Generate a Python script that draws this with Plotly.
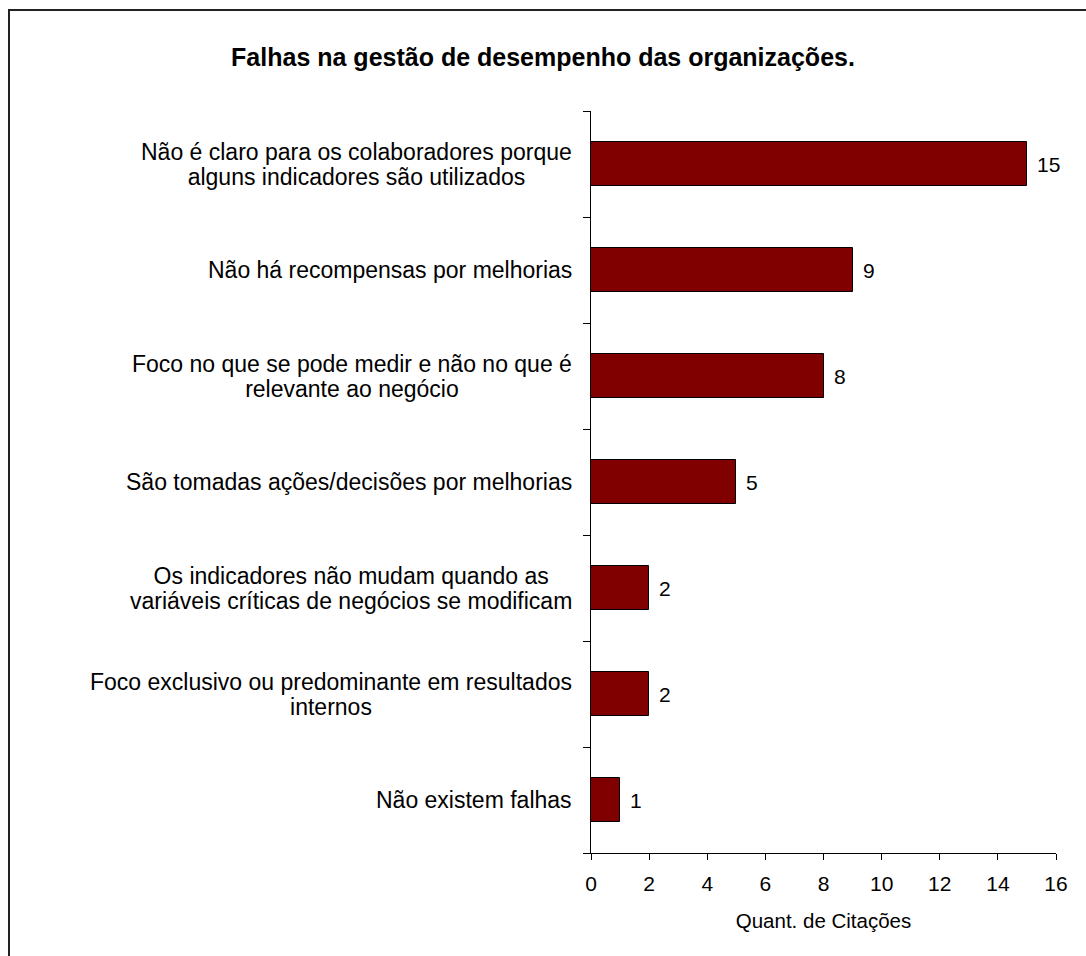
import plotly.graph_objects as go

# Survey results: failures in organisational performance management
categories = [
    "Não é claro para os colaboradores porque<br>alguns indicadores são utilizados",
    "Não há recompensas por melhorias",
    "Foco no que se pode medir e não no que é<br>relevante ao negócio",
    "São tomadas ações/decisões por melhorias",
    "Os indicadores não mudam quando as<br>variáveis críticas de negócios se modificam",
    "Foco exclusivo ou predominante em resultados<br>internos",
    "Não existem falhas",
]
citations = [15, 9, 8, 5, 2, 2, 1]
x_ticks = [0, 2, 4, 6, 8, 10, 12, 14, 16]

title_text = "Falhas na gestão de desempenho das organizações."
x_title = "Quant. de Citações"

W, H = 1086, 956
L, R, T, B = 591, 30, 111, 103
FONT = "Liberation Sans, Arial, sans-serif"

positions = list(range(len(categories)))

fig = go.Figure()
fig.add_trace(go.Bar(
    x=citations,
    y=positions,
    orientation="h",
    width=0.42,
    marker=dict(color="#800000", line=dict(color="#000000", width=1)),
    hoverinfo="skip",
))

annotations = []

# Value labels just past the end of each bar
for pos, val in zip(positions, citations):
    annotations.append(dict(
        x=val, y=pos, xref="x", yref="y",
        text=str(val), showarrow=False,
        xanchor="left", yanchor="middle", xshift=8,
        font=dict(family=FONT, size=21, color="#000000"),
    ))

# Category labels, centred line by line, right-aligned against the axis.
# The base font size sets the (tighter) line pitch; the span sets glyph size.
def styled(label):
    return "<br>".join(
        '<span style="font-size:23px">' + line + "</span>" for line in label.split("<br>")
    )

for pos, label in zip(positions, categories):
    annotations.append(dict(
        x=0, y=pos, xref="paper", yref="y",
        text=styled(label), showarrow=False,
        xanchor="right", yanchor="middle", align="center",
        xshift=-17,
        font=dict(family=FONT, size=19.5, color="#000000"),
    ))

# Outer chart frame
pw, ph = W - L - R, H - T - B
def px_to_paper_x(px):
    return (px - L) / pw
def px_to_paper_y(py):
    return (H - B - py) / ph

shapes = [dict(
    type="rect", xref="paper", yref="paper",
    x0=px_to_paper_x(9), x1=px_to_paper_x(W + 20),
    y0=px_to_paper_y(H + 20), y1=px_to_paper_y(10),
    line=dict(color="#222222", width=2), fillcolor="rgba(0,0,0,0)",
    layer="below",
)]

fig.update_layout(
    width=W, height=H,
    margin=dict(l=L, r=R, t=T, b=B),
    paper_bgcolor="#ffffff",
    plot_bgcolor="#ffffff",
    showlegend=False,
    bargap=0,
    title=dict(
        text="<b>" + title_text + "</b>",
        x=0.5, xref="container", xanchor="center",
        y=1 - 57 / H, yref="container", yanchor="middle",
        font=dict(family=FONT, size=25, color="#000000"),
    ),
    xaxis=dict(
        range=[0, 16],
        tickvals=x_ticks,
        ticktext=[str(t) for t in x_ticks],
        ticks="outside", ticklen=6, tickcolor="#000000", tickwidth=1,
        ticklabelstandoff=6,
        showline=True, linecolor="#000000", linewidth=1,
        showgrid=False, zeroline=False,
        tickfont=dict(family=FONT, size=21, color="#000000"),
        title=dict(text=x_title, font=dict(family=FONT, size=20.5, color="#000000"), standoff=19),
        fixedrange=True,
    ),
    yaxis=dict(
        range=[len(categories) - 0.5, -0.5],
        tickvals=[p - 0.5 for p in positions] + [len(categories) - 0.5],
        showticklabels=False,
        ticks="outside", ticklen=7, tickcolor="#000000", tickwidth=1,
        showline=True, linecolor="#000000", linewidth=1,
        showgrid=False, zeroline=False,
        fixedrange=True,
    ),
    annotations=annotations,
    shapes=shapes,
)

fig.write_html("out.html")
